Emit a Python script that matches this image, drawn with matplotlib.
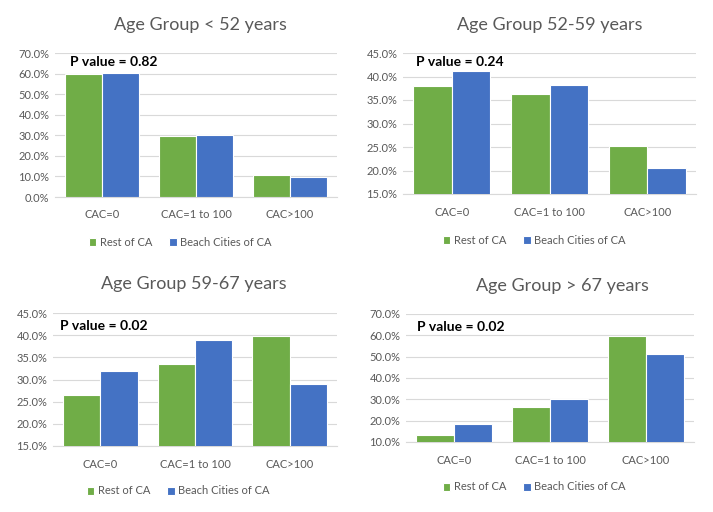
import matplotlib as mpl
mpl.use('Agg')
import matplotlib.pyplot as plt
import numpy as np
from matplotlib.ticker import PercentFormatter, MultipleLocator

plt.rcParams['font.family'] = ['Lato', 'DejaVu Sans']

categories = ["CAC=0", "CAC=1 to 100", "CAC>100"]
series_names = ["Rest of CA", "Beach Cities of CA"]

rest_lt52 = [59.8, 29.8, 10.6]
beach_lt52 = [60.3, 30.0, 9.8]
rest_52_59 = [38.0, 36.3, 25.3]
beach_52_59 = [41.2, 38.1, 20.6]
rest_59_67 = [26.5, 33.4, 39.8]
beach_59_67 = [31.9, 38.9, 28.9]
rest_gt67 = [13.5, 26.4, 59.9]
beach_gt67 = [18.3, 30.2, 51.4]

titles = ["Age Group < 52 years", "Age Group 52-59 years",
          "Age Group 59-67 years", "Age Group > 67 years"]
p_values = ["0.82", "0.24", "0.02", "0.02"]

GREEN = '#70AD47'
BLUE = '#4472C4'
TEXT = '#595959'
GRID = '#D9D9D9'

W, H = 713, 512
fig = plt.figure(figsize=(W / 100, H / 100), dpi=100)

# panel layout in pixels: plot box (x0, x1, y0, y1), title pos, legend pos, p-value pos, ylim, step
panels = [
    dict(box=(55, 337, 53, 197), title=(200, 25), leg=(180, 242), p=(70, 62),
         ylim=(0, 70), step=10, data=(rest_lt52, beach_lt52)),
    dict(box=(403, 696, 53, 194), title=(550, 25), leg=(534, 240), p=(416, 62),
         ylim=(15, 45), step=5, data=(rest_52_59, beach_52_59)),
    dict(box=(53, 337, 313, 446), title=(194, 284), leg=(178, 491), p=(60, 326),
         ylim=(15, 45), step=5, data=(rest_59_67, beach_59_67)),
    dict(box=(406, 694, 314, 442), title=(562, 286), leg=(534, 487), p=(417, 327),
         ylim=(10, 70), step=10, data=(rest_gt67, beach_gt67)),
]

x = np.arange(len(categories))
bw = 0.395

for i, pn in enumerate(panels):
    x0, x1, y0, y1 = pn['box']
    ax = fig.add_axes([x0 / W, 1 - y1 / H, (x1 - x0) / W, (y1 - y0) / H])
    rest, beach = pn['data']
    ax.bar(x - bw / 2, rest, bw, color=GREEN, edgecolor='white', linewidth=0.8,
           label=series_names[0], zorder=3)
    ax.bar(x + bw / 2, beach, bw, color=BLUE, edgecolor='white', linewidth=0.8,
           label=series_names[1], zorder=3)
    ax.set_xlim(-0.5, 2.5)
    ax.set_ylim(*pn['ylim'])
    ax.yaxis.set_major_locator(MultipleLocator(pn['step']))
    ax.yaxis.set_major_formatter(PercentFormatter(decimals=1))
    ax.set_xticks(x)
    ax.set_xticklabels(categories)
    ax.tick_params(axis='both', length=0, labelsize=8, colors=TEXT)
    ax.tick_params(axis='x', pad=9)
    ax.tick_params(axis='y', pad=4)
    ax.grid(axis='y', color=GRID, linewidth=0.8, zorder=0)
    for s in ['top', 'right', 'left']:
        ax.spines[s].set_visible(False)
    ax.spines['bottom'].set_color(GRID)
    ax.spines['bottom'].set_linewidth(0.8)
    ax.set_axisbelow(True)

    tx, ty = pn['title']
    fig.text(tx / W, 1 - ty / H, titles[i], ha='center', va='center',
             fontsize=13, color=TEXT)
    px, py = pn['p']
    fig.text(px / W, 1 - py / H, "P value = " + p_values[i], ha='left', va='center',
             fontsize=10, fontweight='bold', color='black')
    lx, ly = pn['leg']
    ax.legend(loc='center', bbox_to_anchor=(lx / W, 1 - ly / H), bbox_transform=fig.transFigure,
              ncol=2, frameon=False, fontsize=8, labelcolor=TEXT, handlelength=0.7,
              handleheight=0.7, handletextpad=0.3, columnspacing=1.5)

fig.savefig('out.png', dpi=100)
